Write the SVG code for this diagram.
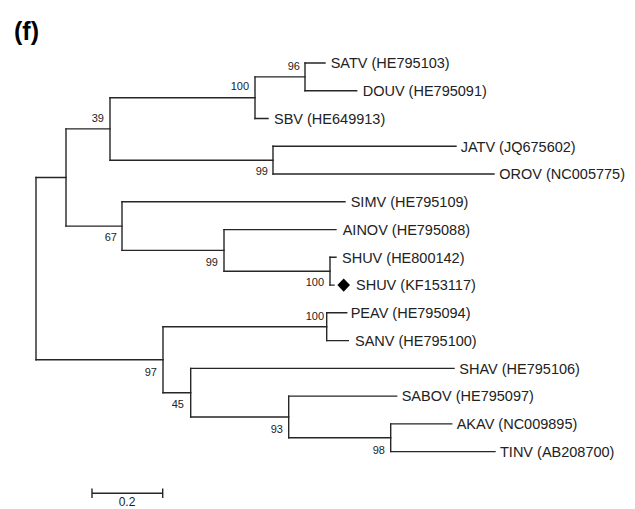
<svg xmlns="http://www.w3.org/2000/svg" width="635" height="509" viewBox="0 0 635 509">
<style>
.br{fill:none;stroke:#262626;stroke-width:1.4;stroke-linecap:square}
.lf{font-family:"Liberation Sans",Arial,sans-serif;font-size:14.5px;fill:#222}
.bs{font-family:"Liberation Sans",Arial,sans-serif;font-size:11px;fill:#222;text-anchor:end}
.ttl{font-family:"Liberation Sans",Arial,sans-serif;font-size:25px;font-weight:bold;fill:#000}
</style>
<rect width="635" height="509" fill="#fff"/>
<text class="ttl" x="14" y="40">(f)</text>
<g id="connectors" class="br">
<path d="M305 63V90.8M255 76.9V118.5M273 146.3V174M110 97.7V160.2M330 257.3V285.1M224 229.6V271.2M122 201.8V250.4M66 128.9V226.1M326.7 312.8V340.6M390.7 423.9V451.6M288.7 396.1V437.8M190.7 368.4V417M163 326.7V392.7M36 177.5V359.7"/>
<path d="M36 177.5H66M36 359.7H163M66 128.9H110M66 226.1H122M110 97.7H255M110 160.2H273M255 76.9H305M255 118.5H268M305 63H325M305 90.8H356.7M273 146.3H456M273 174H494M122 201.8H345M122 250.4H224M224 229.6H336M224 271.2H330M330 257.3H336M330 285.1H334M163 326.7H326.7M163 392.7H190.7M326.7 312.8H346.7M326.7 340.6H348.3M190.7 368.4H454M190.7 417H288.7M288.7 396.1H396.7M288.7 437.8H390.7M390.7 423.9H451.7M390.7 451.6H495"/>
</g>
<g id="n96"><text class="bs" x="300" y="70">96</text></g>
<g id="n100a"><text class="bs" x="249" y="90">100</text></g>
<g id="n39"><text class="bs" x="104" y="122">39</text></g>
<g id="n99a"><text class="bs" x="268" y="175">99</text></g>
<g id="n67"><text class="bs" x="117" y="241">67</text></g>
<g id="n99b"><text class="bs" x="218" y="266">99</text></g>
<g id="n100b"><text class="bs" x="324" y="286">100</text></g>
<g id="n100c"><text class="bs" x="324" y="320">100</text></g>
<g id="n97"><text class="bs" x="157" y="376">97</text></g>
<g id="n45"><text class="bs" x="184" y="408">45</text></g>
<g id="n93"><text class="bs" x="283" y="433">93</text></g>
<g id="n98"><text class="bs" x="385" y="454">98</text></g>
<g id="satv"><text class="lf" x="330.7" y="68.2">SATV (HE795103)</text></g>
<g id="douv"><text class="lf" x="362.7" y="96">DOUV (HE795091)</text></g>
<g id="sbv"><text class="lf" x="274" y="123.7">SBV (HE649913)</text></g>
<g id="jatv"><text class="lf" x="460.7" y="151.5">JATV (JQ675602)</text></g>
<g id="orov"><text class="lf" x="499.3" y="179.2">OROV (NC005775)</text></g>
<g id="simv"><text class="lf" x="350.7" y="207">SIMV (HE795109)</text></g>
<g id="ainov"><text class="lf" x="342.7" y="234.8">AINOV (HE795088)</text></g>
<g id="shuv1"><text class="lf" x="342" y="262.5">SHUV (HE800142)</text></g>
<g id="shuv2"><path d="M343.7 278.4L350 285.1L343.7 291.8L337.4 285.1Z" fill="#000"/><text class="lf" x="356" y="290.3">SHUV (KF153117)</text></g>
<g id="peav"><text class="lf" x="350.7" y="318">PEAV (HE795094)</text></g>
<g id="sanv"><text class="lf" x="355" y="345.8">SANV (HE795100)</text></g>
<g id="shav"><text class="lf" x="459.3" y="373.6">SHAV (HE795106)</text></g>
<g id="sabov"><text class="lf" x="401.7" y="401.3">SABOV (HE795097)</text></g>
<g id="akav"><text class="lf" x="456.7" y="429.1">AKAV (NC009895)</text></g>
<g id="tinv"><text class="lf" x="500" y="456.8">TINV (AB208700)</text></g>
<g id="scale">
<path class="br" d="M92 493.3H162.7M92 489.3V497.3M162.7 489.3V497.3"/>
<text class="bs" x="127" y="505.5" style="text-anchor:middle;font-size:12px">0.2</text>
</g>
</svg>
